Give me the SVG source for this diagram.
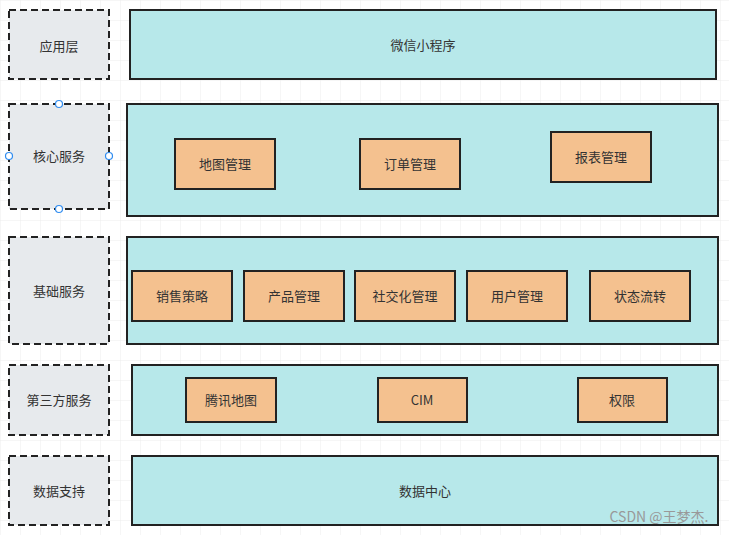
<svg xmlns="http://www.w3.org/2000/svg" width="729" height="535" viewBox="0 0 729 535">
<defs>
<pattern id="grid" width="20" height="20" patternUnits="userSpaceOnUse" x="1" y="1">
<path d="M20 0V20H0" fill="none" stroke="#ececec" stroke-width="1"/>
</pattern>
<style>
text{font-family:"Noto Sans CJK SC","Liberation Sans",sans-serif;font-size:13px;fill:#333;text-anchor:middle;dominant-baseline:central}
.lbl{fill:#e7eaed;stroke:#222;stroke-width:2;stroke-dasharray:7,4}
.lay{fill:#b7e8ea;stroke:#222;stroke-width:2}
.mod{fill:#f4c18f;stroke:#222;stroke-width:2}
.h{fill:#fff;stroke:#2f8cf0;stroke-width:1.2}
</style>
</defs>
<rect width="729" height="535" fill="#fff"/>
<rect width="729" height="535" fill="url(#grid)"/>
<g id="connectors"/>
<g transform="translate(0,-1.5)">
<g id="l1"><rect class="lbl" x="9" y="11.5" width="100" height="69"/><text x="59" y="46.5">应用层</text></g>
</g>
<g id="l2"><rect class="lbl" x="9" y="104" width="100" height="105"/><text x="59" y="155">核心服务</text>
<circle class="h" cx="59" cy="104" r="3.5"/><circle class="h" cx="59" cy="209" r="3.5"/><circle class="h" cx="9" cy="156" r="3.5"/><circle class="h" cx="109" cy="156" r="3.5"/></g>
<g id="l3"><rect class="lbl" x="9" y="237" width="100" height="107"/><text x="59" y="290">基础服务</text></g>
<g id="l4"><rect class="lbl" x="9" y="365" width="100" height="70"/><text x="59" y="399">第三方服务</text></g>
<g id="l5"><rect class="lbl" x="9" y="456" width="100" height="69"/><text x="59" y="490">数据支持</text></g>
<g id="r1"><rect class="lay" x="130" y="10" width="586" height="69"/><text x="423" y="44">微信小程序</text></g>
<g id="r2"><rect class="lay" x="127" y="104" width="591" height="112"/></g>
<g id="r3"><rect class="lay" x="127" y="237" width="591" height="107"/></g>
<g id="r4"><rect class="lay" x="132" y="365" width="586" height="70"/></g>
<g id="r5"><rect class="lay" x="132" y="456" width="586" height="69"/><text x="425" y="490">数据中心</text></g>
<g id="m1"><rect class="mod" x="175" y="139" width="100" height="50"/><text x="225" y="163">地图管理</text></g>
<g id="m2"><rect class="mod" x="360" y="139" width="100" height="50"/><text x="410" y="163">订单管理</text></g>
<g id="m3"><rect class="mod" x="551" y="132" width="100" height="50"/><text x="601" y="156">报表管理</text></g>
<g id="m4"><rect class="mod" x="132" y="271" width="100" height="50"/><text x="182" y="295">销售策略</text></g>
<g id="m5"><rect class="mod" x="244" y="271" width="100" height="50"/><text x="294" y="295">产品管理</text></g>
<g id="m6"><rect class="mod" x="355" y="271" width="100" height="50"/><text x="405" y="295">社交化管理</text></g>
<g id="m7"><rect class="mod" x="467" y="271" width="100" height="50"/><text x="517" y="295">用户管理</text></g>
<g id="m8"><rect class="mod" x="590" y="271" width="100" height="50"/><text x="640" y="295">状态流转</text></g>
<g id="m9"><rect class="mod" x="186" y="378" width="90" height="44"/><text x="231" y="399">腾讯地图</text></g>
<g id="m10"><rect class="mod" x="378" y="378" width="89" height="44"/><text x="422" y="399">CIM</text></g>
<g id="m11"><rect class="mod" x="578" y="378" width="89" height="44"/><text x="622" y="399">权限</text></g>
<text x="659" y="516" style="fill:#999;font-size:14px">CSDN @王梦杰.</text>
</svg>
